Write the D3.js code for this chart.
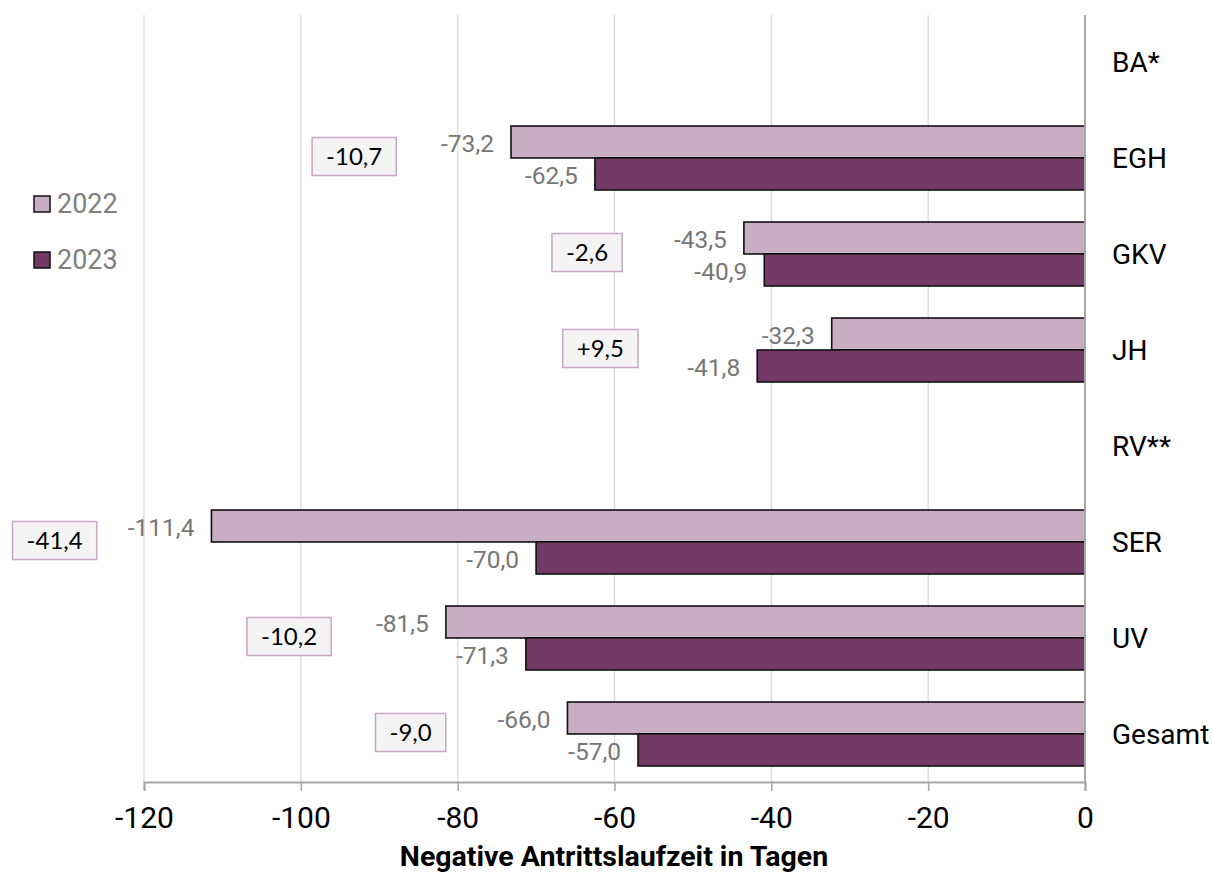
<!DOCTYPE html>
<html>
<head>
<meta charset="utf-8">
<script src="https://cdn.jsdelivr.net/npm/d3@7"></script>
<style>
  body { margin: 0; background: #fff; }
  svg { display: block; }
</style>
</head>
<body>
<svg id="chart" width="1213" height="886"></svg>
<script>
const categories = ["BA*", "EGH", "GKV", "JH", "RV**", "SER", "UV", "Gesamt"];
const series = ["2022", "2023"];
const values2022 = [null, -73.2, -43.5, -32.3, null, -111.4, -81.5, -66.0];
const values2023 = [null, -62.5, -40.9, -41.8, null, -70.0, -71.3, -57.0];
const xTicks = [-120, -100, -80, -60, -40, -20, 0];
const axisTitle = "Negative Antrittslaufzeit in Tagen";
const colors = { "2022": "#c8aec5", "2023": "#733a67" };

const svg = d3.select("#chart");
const fmt = v => d3.format(".1f")(v).replace(".", ",").replace("−", "-");
const fmtSigned = v => (v > 0 ? "+" : "") + fmt(v);

const x = d3.scaleLinear().domain([-120, 0]).range([144, 1085]);
const y = d3.scaleBand().domain(categories).range([14, 782]).paddingInner(1/3).paddingOuter(1/6);
const ySub = d3.scaleBand().domain(series).range([0, y.bandwidth()]);

const rows = categories.map((c, i) => ({ cat: c, v2022: values2022[i], v2023: values2023[i] }));

// gridlines
svg.append("g").selectAll("line").data(xTicks.filter(t => t !== 0)).join("line")
  .attr("x1", d => x(d)).attr("x2", d => x(d))
  .attr("y1", 15).attr("y2", 782)
  .attr("stroke", "#dedede").attr("stroke-width", 1.5);

// x axis
const xAxis = svg.append("g").attr("transform", "translate(0,782)")
  .call(d3.axisBottom(x).tickValues(xTicks).tickSize(9).tickPadding(16).tickFormat(d => d3.format("d")(d).replace("−", "-")));
xAxis.select(".domain").attr("stroke", "#a6a6a6").attr("stroke-width", 2);
xAxis.selectAll(".tick line").attr("stroke", "#a6a6a6").attr("stroke-width", 1.5);
xAxis.selectAll(".tick text").attr("font-family", "Roboto").attr("font-size", 30).attr("fill", "#000");

// bars
const barData = [];
rows.forEach(r => {
  series.forEach(s => {
    const v = s === "2022" ? r.v2022 : r.v2023;
    if (v !== null) barData.push({ cat: r.cat, s, v });
  });
});

svg.append("g").selectAll("rect").data(barData).join("rect")
  .attr("x", d => x(d.v))
  .attr("y", d => y(d.cat) + ySub(d.s))
  .attr("width", d => x(0) - x(d.v))
  .attr("height", ySub.bandwidth())
  .attr("fill", d => colors[d.s])
  .attr("stroke", "#111").attr("stroke-width", 1.6);

// zero line
svg.append("line").attr("x1", x(0)).attr("x2", x(0)).attr("y1", 15).attr("y2", 782)
  .attr("stroke", "#a6a6a6").attr("stroke-width", 2);

// value labels
svg.append("g").selectAll("text").data(barData).join("text")
  .attr("x", d => x(d.v) - 17)
  .attr("y", d => y(d.cat) + ySub(d.s) + ySub.bandwidth() / 2 + 1)
  .attr("dy", "0.35em")
  .attr("text-anchor", "end")
  .attr("font-family", "Roboto").attr("font-size", 24.5).attr("fill", "#777")
  .text(d => fmt(d.v));

// category labels
svg.append("g").selectAll("text").data(categories).join("text")
  .attr("x", 1112)
  .attr("y", d => y(d) + y.bandwidth() / 2)
  .attr("dy", "0.35em")
  .attr("font-family", "Roboto").attr("font-size", 28).attr("fill", "#000")
  .text(d => d);

// difference boxes
const diffRows = rows.filter(r => r.v2022 !== null && r.v2023 !== null);
const boxG = svg.append("g").selectAll("g").data(diffRows).join("g")
  .attr("transform", r => `translate(${x(Math.min(r.v2022, r.v2023) - 20)},${y(r.cat) + y.bandwidth() / 2 - 1.5})`);
boxG.append("rect").attr("class", "box");
boxG.append("text")
  .attr("text-anchor", "middle").attr("dy", "0.35em")
  .attr("font-family", "Lato").attr("font-size", 24).attr("fill", "#000")
  .text(r => fmtSigned(Math.round((r.v2022 - r.v2023) * 10) / 10));
boxG.each(function() {
  const g = d3.select(this);
  const bb = g.select("text").node().getBBox();
  const w = bb.width + 28, h = 38;
  g.select("rect").attr("x", -w / 2).attr("y", -h / 2).attr("width", w).attr("height", h)
    .attr("fill", "#f4f4f4").attr("stroke", "#c8a6c2").attr("stroke-width", 1.5);
});

// legend
const legend = svg.append("g").selectAll("g").data(series).join("g")
  .attr("transform", (d, i) => `translate(34,${196 + i * 56})`);
legend.append("rect").attr("width", 16).attr("height", 16)
  .attr("fill", d => colors[d]).attr("stroke", "#111").attr("stroke-width", 1.5);
legend.append("text").attr("x", 23).attr("y", 8).attr("dy", "0.35em")
  .attr("font-family", "Roboto").attr("font-size", 27).attr("fill", "#7f7f7f")
  .text(d => d);

// axis title
svg.append("text").attr("x", 614).attr("y", 856).attr("dy", "0.35em")
  .attr("text-anchor", "middle")
  .attr("font-family", "Roboto").attr("font-weight", "bold").attr("font-size", 28.5).attr("fill", "#000")
  .text(axisTitle);
</script>
</body>
</html>
